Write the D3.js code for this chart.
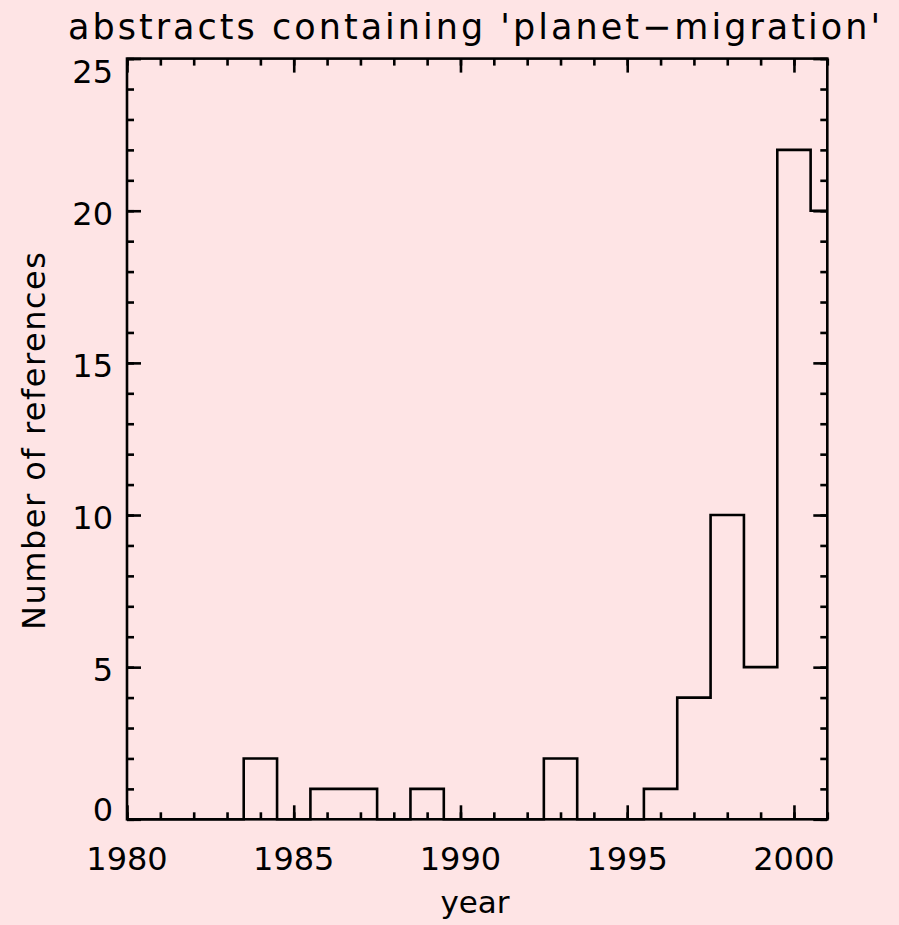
<!DOCTYPE html>
<html>
<head>
<meta charset="utf-8">
<script src="https://cdn.jsdelivr.net/npm/d3@7"></script>
<style>
  html, body { margin: 0; padding: 0; background: #fee4e5; }
  svg { display: block; }
  text { font-family: "DejaVu Sans", sans-serif; fill: #000; }
</style>
</head>
<body>
<svg id="chart" width="899" height="925"></svg>
<script>
// Yearly counts of abstracts mentioning 'planet-migration'
const years  = [1980, 1981, 1982, 1983, 1984, 1985, 1986, 1987, 1988, 1989, 1990,
                1991, 1992, 1993, 1994, 1995, 1996, 1997, 1998, 1999, 2000, 2001];
const counts = [0, 0, 0, 0, 2, 0, 1, 1, 0, 1, 0,
                0, 0, 2, 0, 0, 1, 4, 10, 5, 22, 20];
const xTickLabels = [1980, 1985, 1990, 1995, 2000];
const yTickLabels = [0, 5, 10, 15, 20, 25];
const xMinorTicks = d3.range(1980, 2002, 1);
const yMinorTicks = d3.range(0, 26, 1);

const titleText = "abstracts containing 'planet\u2212migration'";
const xTitle = "year";
const yTitle = "Number of references";

const svg = d3.select("#chart");
const plotL = 127, plotR = 827.3, plotT = 58.6, plotB = 819.3;

const x = d3.scaleLinear().domain([1980, 2001]).range([plotL, plotR]);
const y = d3.scaleLinear().domain([0, 25]).range([plotB, plotT]);

const MAJOR = 14, MINOR = 7, LW = 2.6;

function styleAxis(g) {
  g.select(".domain").remove();
  g.selectAll("line").attr("stroke", "#000").attr("stroke-width", LW);
  g.selectAll("text").remove();
}

// minor + major ticks on all four sides, pointing inward
const axes = [
  [() => d3.axisBottom(x), `translate(0,${plotB})`, xMinorTicks, xTickLabels],
  [() => d3.axisTop(x), `translate(0,${plotT})`, xMinorTicks, xTickLabels],
  [() => d3.axisLeft(y), `translate(${plotL},0)`, yMinorTicks, yTickLabels],
  [() => d3.axisRight(y), `translate(${plotR},0)`, yMinorTicks, yTickLabels]
];
axes.forEach(([mk, tr, minor, major]) => {
  svg.append("g").attr("transform", tr)
    .call(mk().tickValues(minor).tickSize(-MINOR).tickFormat(""))
    .call(styleAxis);
  svg.append("g").attr("transform", tr)
    .call(mk().tickValues(major).tickSize(-MAJOR).tickFormat(""))
    .call(styleAxis);
});

// frame
svg.append("rect")
  .attr("x", plotL).attr("y", plotT)
  .attr("width", plotR - plotL).attr("height", plotB - plotT)
  .attr("fill", "none").attr("stroke", "#000").attr("stroke-width", LW);

// histogram drawn as a step outline, bins centred on each year
svg.append("clipPath").attr("id", "plotclip")
  .append("rect")
  .attr("x", plotL).attr("y", plotT - 2)
  .attr("width", plotR - plotL).attr("height", plotB - plotT + 4);

const stepPts = [];
years.forEach((yr, i) => {
  stepPts.push([yr - 0.5, counts[i]]);
  stepPts.push([yr + 0.5, counts[i]]);
});
const line = d3.line().x(d => x(d[0])).y(d => y(d[1]));
svg.append("path")
  .attr("clip-path", "url(#plotclip)")
  .attr("d", line(stepPts))
  .attr("fill", "none")
  .attr("stroke", "#000")
  .attr("stroke-width", LW)
  .attr("stroke-linejoin", "miter");

// tick labels
svg.append("g").selectAll("text")
  .data(xTickLabels).join("text")
  .attr("x", d => x(d)).attr("y", 870)
  .attr("text-anchor", "middle")
  .attr("font-size", 32)
  .text(d => d);

svg.append("g").selectAll("text")
  .data(yTickLabels).join("text")
  .attr("x", 113)
  .attr("y", (d, i) => y(d) + (i === 0 ? 2 : (i === yTickLabels.length - 1 ? 24 : 14)))
  .attr("text-anchor", "end")
  .attr("font-size", 32)
  .text(d => d);

// titles
svg.append("text")
  .attr("x", 474).attr("y", 39)
  .attr("text-anchor", "middle")
  .attr("font-size", 35)
  .attr("textLength", 812).attr("lengthAdjust", "spacing")
  .text(titleText);

svg.append("text")
  .attr("x", 475).attr("y", 913)
  .attr("text-anchor", "middle")
  .attr("font-size", 31)
  .text(xTitle);

svg.append("text")
  .attr("transform", "translate(45,441) rotate(-90)")
  .attr("text-anchor", "middle")
  .attr("font-size", 32)
  .attr("textLength", 378).attr("lengthAdjust", "spacing")
  .text(yTitle);
</script>
</body>
</html>
